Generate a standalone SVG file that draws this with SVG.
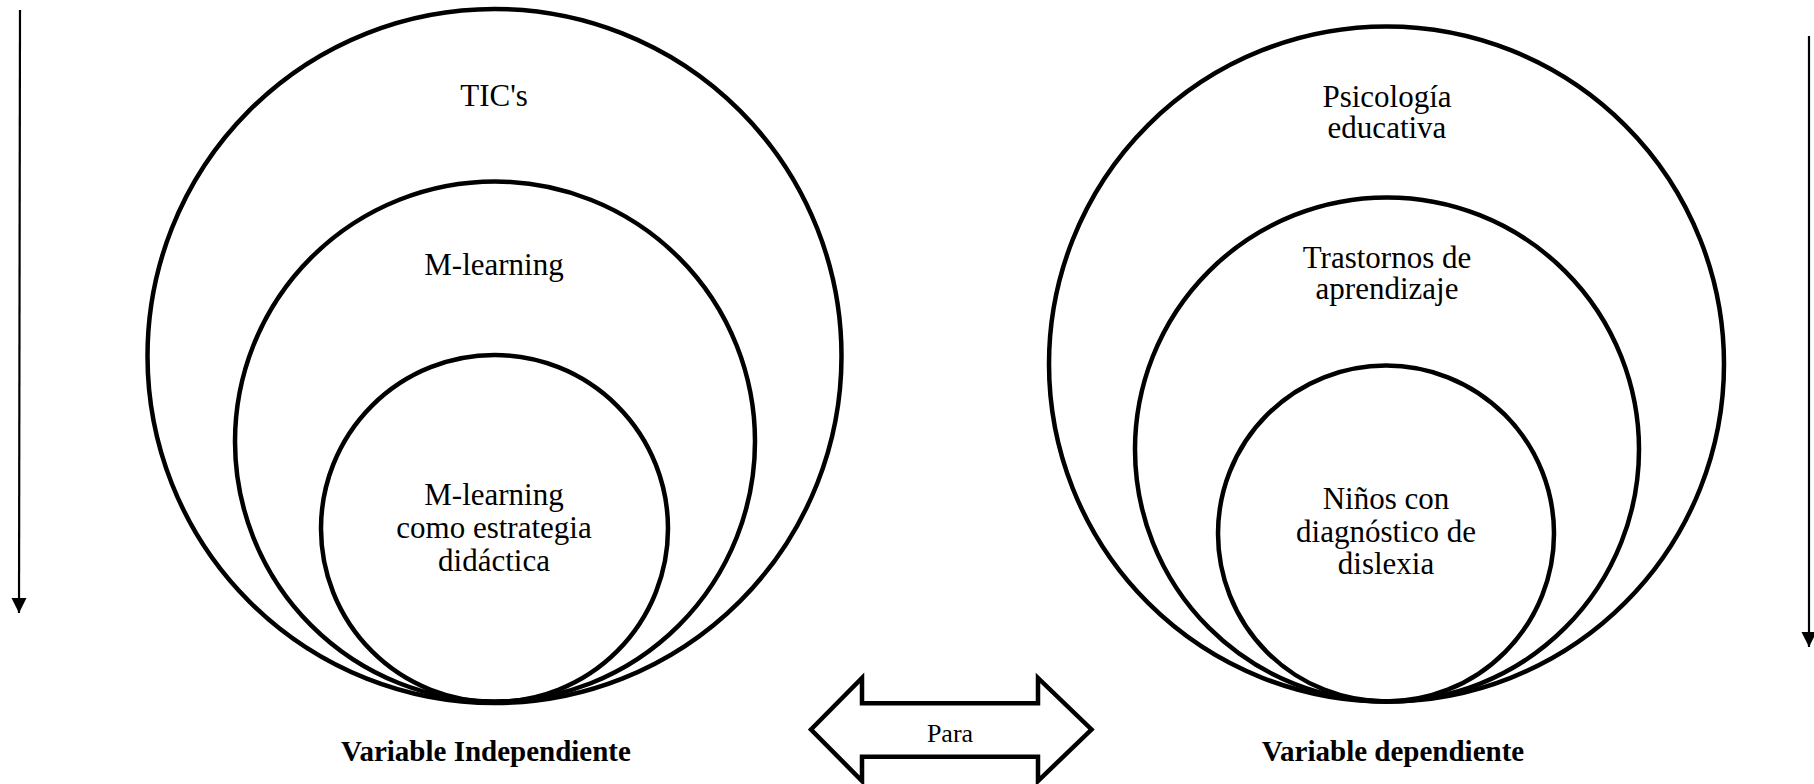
<svg xmlns="http://www.w3.org/2000/svg" width="1814" height="784" viewBox="0 0 1814 784">
  <style>
    .ring { fill: none; stroke: #000; stroke-width: 4.5; }
    .lbl { font-family: "Liberation Serif", "Times New Roman", serif; font-size: 31px; fill: #000; text-anchor: middle; }
    .cap { font-family: "Liberation Serif", "Times New Roman", serif; font-size: 29px; font-weight: bold; fill: #000; text-anchor: middle; }
    .axis { stroke: #000; stroke-width: 2.2; fill: none; }
  </style>
  <defs>
    <marker id="tri" viewBox="0 0 10 10" refX="10" refY="5" markerWidth="7" markerHeight="7" markerUnits="strokeWidth" orient="auto">
      <path d="M0,0 L10,5 L0,10 Z" fill="#000"/>
    </marker>
  </defs>
  <rect width="1814" height="784" fill="#fff"/>

  <!-- vertical direction arrows -->
  <g id="connectors">
    <line class="axis" x1="20" y1="10" x2="19" y2="613" marker-end="url(#tri)"/>
    <line class="axis" x1="1809" y1="36" x2="1809" y2="647" marker-end="url(#tri)"/>
  </g>

  <!-- independent variable: nested circles -->
  <g id="tics">
    <circle class="ring" cx="494.5" cy="356" r="347"/>
    <text class="lbl" x="494" y="106">TIC's</text>
  </g>
  <g id="mlearning">
    <circle class="ring" cx="495" cy="441.5" r="260"/>
    <text class="lbl" x="494" y="275">M-learning</text>
  </g>
  <g id="mlearning-estrategia">
    <circle class="ring" cx="494.5" cy="528.5" r="173.5"/>
    <text class="lbl" x="494" y="505">M-learning</text>
    <text class="lbl" x="494" y="538">como estrategia</text>
    <text class="lbl" x="494" y="571">didáctica</text>
  </g>
  <g id="label-independiente">
    <text class="cap" x="486" y="761">Variable Independiente</text>
  </g>

  <!-- dependent variable: nested circles -->
  <g id="psicologia">
    <circle class="ring" cx="1386.5" cy="364" r="337.5"/>
    <text class="lbl" x="1387" y="106.5">Psicología</text>
    <text class="lbl" x="1387" y="138">educativa</text>
  </g>
  <g id="trastornos">
    <circle class="ring" cx="1387" cy="449.5" r="252"/>
    <text class="lbl" x="1387" y="268">Trastornos de</text>
    <text class="lbl" x="1387" y="299">aprendizaje</text>
  </g>
  <g id="ninos">
    <circle class="ring" cx="1386" cy="533.5" r="168"/>
    <text class="lbl" x="1386" y="509">Niños con</text>
    <text class="lbl" x="1386" y="542">diagnóstico de</text>
    <text class="lbl" x="1386" y="574">dislexia</text>
  </g>
  <g id="label-dependiente">
    <text class="cap" x="1393" y="761">Variable dependiente</text>
  </g>

  <!-- two-headed block arrow between the variables -->
  <g id="para">
    <polygon points="811,729.5 862,678 862,703.3 1038,703.3 1038,678 1091.5,729.5 1038,781 1038,756.7 862,756.7 862,781" fill="#fff" stroke="#000" stroke-width="4.5" stroke-linejoin="miter"/>
    <text x="950" y="742" font-family="'Liberation Serif', 'Times New Roman', serif" font-size="26" text-anchor="middle" fill="#000">Para</text>
  </g>
</svg>
